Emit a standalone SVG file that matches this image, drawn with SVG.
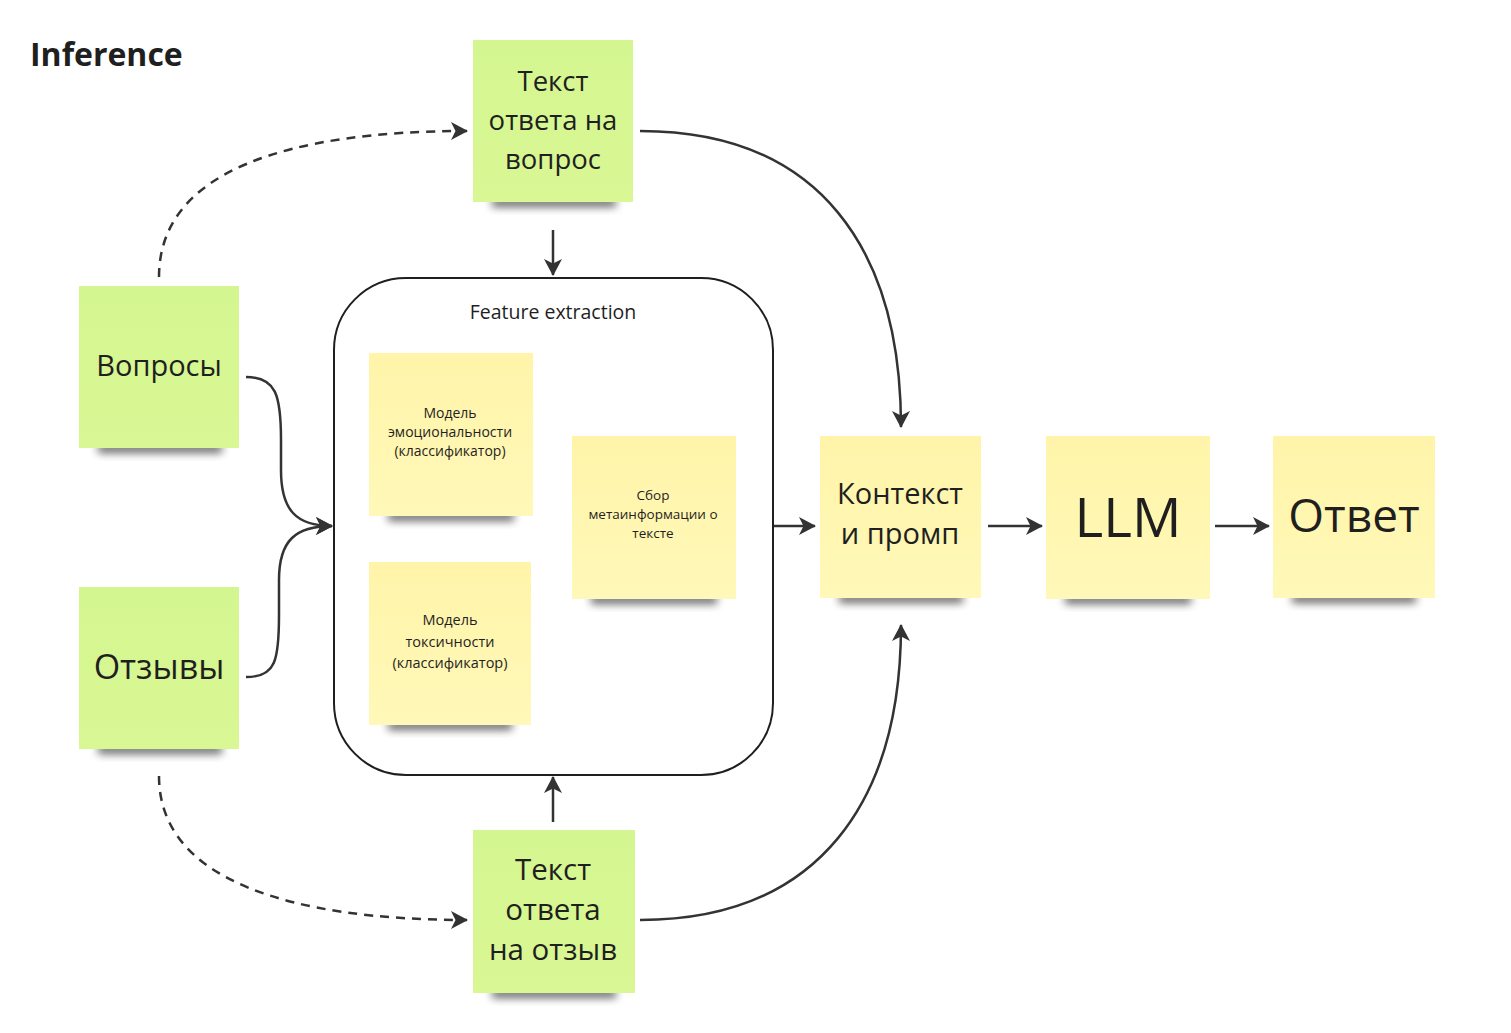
<svg xmlns="http://www.w3.org/2000/svg" width="1511" height="1033" viewBox="0 0 1511 1033">
<defs>
<style>
text{font-family:"Open Sans","Noto Sans","DejaVu Sans",sans-serif;fill:#1f1f1f;text-anchor:middle}
.green{fill:url(#gg)}
.yellow{fill:url(#gy)}
.sh{fill:#000;opacity:0.6;filter:url(#blur)}
.conn{fill:none;stroke:#333;stroke-width:2.5}
.dash{stroke-dasharray:9 7}
</style>
<linearGradient id="gg" x1="0" y1="0" x2="0" y2="1"><stop offset="0" stop-color="#d4f690"/><stop offset="1" stop-color="#d9f794"/></linearGradient>
<linearGradient id="gy" x1="0" y1="0" x2="0" y2="1"><stop offset="0" stop-color="#fff4a9"/><stop offset="1" stop-color="#fff8b8"/></linearGradient>
<filter id="blur" x="-20%" y="-80%" width="140%" height="260%"><feGaussianBlur stdDeviation="4"/></filter>
<marker id="ah" viewBox="0 0 17 18" refX="16" refY="9" markerWidth="17" markerHeight="18" markerUnits="userSpaceOnUse" orient="auto"><path d="M0,0 L17,9 L0,18 L4.5,9 Z" fill="#333"/></marker>
</defs>
<rect width="1511" height="1033" fill="#fff"/>
<text x="30" y="66" style="font-size:32px;font-weight:bold;text-anchor:start">Inference</text>

<g id="connectors">
<path class="conn dash" d="M159,277 C159,170 290,131 467,131" marker-end="url(#ah)"/>
<path class="conn dash" d="M159,776 C159,880 290,920 467,920" marker-end="url(#ah)"/>
<path class="conn" d="M640,131 C820,131 901,250 901,427" marker-end="url(#ah)"/>
<path class="conn" d="M640,920 C820,920 901,800 901,625" marker-end="url(#ah)"/>
<path class="conn" d="M553,230 L553,275" marker-end="url(#ah)"/>
<path class="conn" d="M553,822 L553,777" marker-end="url(#ah)"/>
<path class="conn" d="M246,377 C276,377 281,395 281,440 L281,470 C281,510 296,526 332,526" marker-end="url(#ah)"/>
<path class="conn" d="M246,677 C276,677 279,660 279,615 L279,580 C279,540 296,526 332,526" marker-end="url(#ah)"/>
<path class="conn" d="M774,526 L815,526" marker-end="url(#ah)"/>
<path class="conn" d="M988,526 L1042,526" marker-end="url(#ah)"/>
<path class="conn" d="M1215,526 L1269,526" marker-end="url(#ah)"/>
</g>

<g id="feature-extraction">
<rect x="334" y="278" width="439" height="497" rx="72" fill="none" stroke="#1f1f1f" stroke-width="2"/>
<text x="553" y="319" style="font-size:19.5px">Feature extraction</text>
</g>

<g id="n-answer-q">
<rect class="sh" x="492" y="198" width="124" height="9"/>
<rect class="green" x="473" y="40" width="160" height="162"/>
<text style="font-size:27.5px"><tspan x="553" y="91">Текст</tspan><tspan x="553" y="130">ответа на</tspan><tspan x="553" y="169">вопрос</tspan></text>
</g>

<g id="n-questions">
<rect class="sh" x="98" y="444" width="124" height="9"/>
<rect class="green" x="79" y="286" width="160" height="162"/>
<text x="159" y="376" style="font-size:29px">Вопросы</text>
</g>

<g id="n-reviews">
<rect class="sh" x="98" y="745" width="124" height="9"/>
<rect class="green" x="79" y="587" width="160" height="162"/>
<text x="159" y="679" style="font-size:34px">Отзывы</text>
</g>

<g id="n-answer-r">
<rect class="sh" x="492" y="989" width="124" height="9"/>
<rect class="green" x="473" y="830" width="162" height="163"/>
<text style="font-size:29.5px"><tspan x="553" y="880">Текст</tspan><tspan x="553" y="920">ответа</tspan><tspan x="553" y="960">на отзыв</tspan></text>
</g>

<g id="n-emotion">
<rect class="sh" x="388" y="512" width="126" height="9"/>
<rect class="yellow" x="369" y="353" width="164" height="163"/>
<text style="font-size:14px"><tspan x="450" y="418">Модель</tspan><tspan x="450" y="437">эмоциональности</tspan><tspan x="450" y="456">(классификатор)</tspan></text>
</g>

<g id="n-toxic">
<rect class="sh" x="388" y="721" width="124" height="9"/>
<rect class="yellow" x="369" y="562" width="162" height="163"/>
<text style="font-size:14.5px"><tspan x="450" y="625">Модель</tspan><tspan x="450" y="647">токсичности</tspan><tspan x="450" y="668">(классификатор)</tspan></text>
</g>

<g id="n-meta">
<rect class="sh" x="591" y="595" width="126" height="9"/>
<rect class="yellow" x="572" y="436" width="164" height="163"/>
<text style="font-size:13.5px"><tspan x="653" y="500">Сбор</tspan><tspan x="653" y="519">метаинформации о</tspan><tspan x="653" y="538">тексте</tspan></text>
</g>

<g id="n-context">
<rect class="sh" x="839" y="594" width="124" height="9"/>
<rect class="yellow" x="820" y="436" width="161" height="162"/>
<text style="font-size:29px"><tspan x="900" y="504">Контекст</tspan><tspan x="900" y="544">и промп</tspan></text>
</g>

<g id="n-llm">
<rect class="sh" x="1065" y="595" width="126" height="9"/>
<rect class="yellow" x="1046" y="436" width="164" height="163"/>
<text x="1128" y="537" style="font-size:55px">LLM</text>
</g>

<g id="n-answer">
<rect class="sh" x="1292" y="594" width="124" height="9"/>
<rect class="yellow" x="1273" y="436" width="162" height="162"/>
<text x="1354" y="532" style="font-size:46px">Ответ</text>
</g>
</svg>
